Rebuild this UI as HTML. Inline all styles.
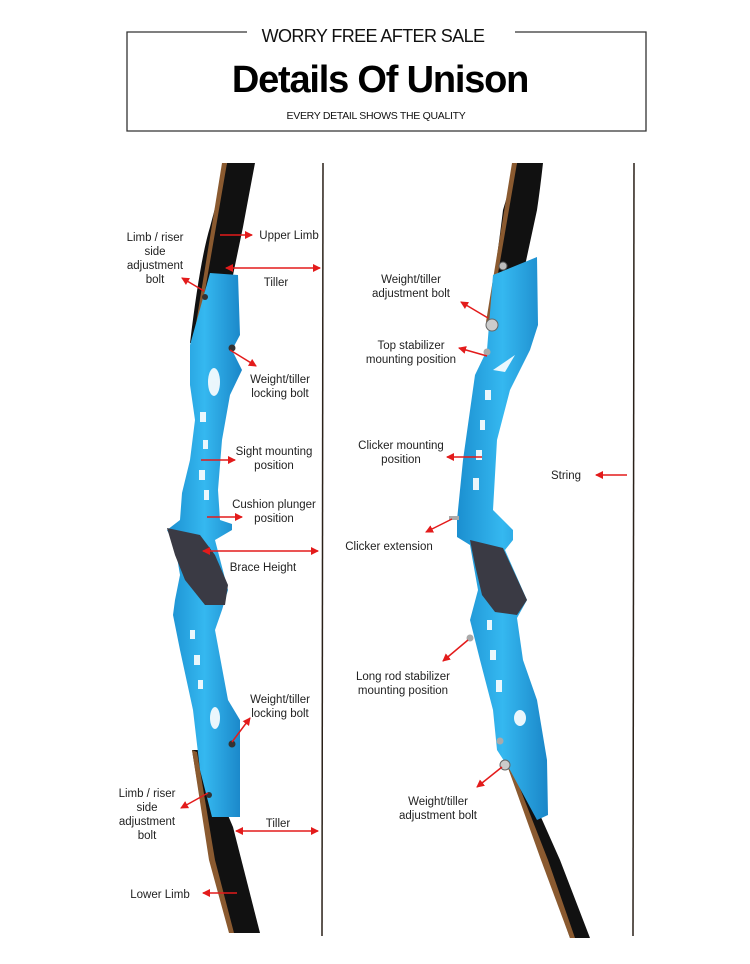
<!DOCTYPE html>
<html><head><meta charset="utf-8"><style>
body{margin:0;background:#fff;}
svg{display:block}
text{font-family:"Liberation Sans",sans-serif;fill:#222;}
.l{font-size:11.5px;}
</style></head><body>
<svg width="750" height="964" viewBox="0 0 750 964" xmlns="http://www.w3.org/2000/svg">
<defs>
<marker id="a" markerWidth="8" markerHeight="8" refX="7" refY="4" orient="auto-start-reverse" markerUnits="userSpaceOnUse"><path d="M0,0 L8,4 L0,8 Z" fill="#e31b1b"/></marker>
<linearGradient id="b" x1="0" x2="1"><stop offset="0" stop-color="#1b8fd0"/><stop offset="0.5" stop-color="#35b8f0"/><stop offset="1" stop-color="#1a86c8"/></linearGradient>
</defs>
<path d="M247,32 H127 V131 H646 V32 H515" fill="none" stroke="#333" stroke-width="1.3"/>
<text x="373" y="42" text-anchor="middle" font-size="18" font-weight="300" letter-spacing="-0.6" style="fill:#111">WORRY FREE AFTER SALE</text>
<text x="380" y="92" text-anchor="middle" font-size="38" font-weight="bold" style="fill:#000" letter-spacing="-1.2">Details Of Unison</text>
<text x="376" y="119" text-anchor="middle" font-size="10.5" letter-spacing="-0.3" style="fill:#111">EVERY DETAIL SHOWS THE QUALITY</text>

<line x1="323" y1="163" x2="322" y2="936" stroke="#2a2018" stroke-width="1.5"/>
<line x1="634" y1="163" x2="633" y2="936" stroke="#2a2018" stroke-width="1.5"/>

<!-- LEFT BOW -->
<path d="M227,163 L255,163 Q248,200 243,227 L233,275 L198,345 L190,343 Q200,260 210,227 Z" fill="#111"/>
<path d="M222,163 L227,163 L200,320 L195,330 Z" fill="#8a5a30"/>
<path d="M192,750 L200,750 L233,827 L260,933 L230,933 L210,860 Z" fill="#111"/>
<path d="M192,750 L197,752 L215,860 L234,933 L229,933 L209,860 Z" fill="#8a5a30"/>
<path d="M210,273 L238,275 L240,335 L232,350 L242,370 L230,395 L222,440 L218,490 L220,520 L232,524 L232,530 L215,540 L228,590 L222,610 L215,630 L228,700 L240,720 L240,817 L212,817 L200,770 L193,710 L180,650 L173,615 L175,600 L180,575 L175,545 L167,530 L180,520 L182,493 L190,460 L195,420 L190,385 L190,345 Z" fill="url(#b)"/>
<path d="M167,528 L200,535 L215,555 L228,585 L225,605 L205,605 L185,580 L175,555 Z" fill="#3a3a44"/>
<g fill="#fff" opacity="0.9">
<ellipse cx="214" cy="382" rx="6" ry="14"/>
<rect x="200" y="412" width="6" height="10"/><rect x="203" y="440" width="5" height="9"/>
<rect x="199" y="470" width="6" height="10"/><rect x="204" y="490" width="5" height="10"/>
<rect x="190" y="630" width="5" height="9"/><rect x="194" y="655" width="6" height="10"/>
<rect x="198" y="680" width="5" height="9"/><ellipse cx="215" cy="718" rx="5" ry="11"/>
</g>
<circle cx="205" cy="297" r="3" fill="#333"/><circle cx="232" cy="348" r="3.5" fill="#333"/>
<circle cx="232" cy="744" r="3.5" fill="#333"/><circle cx="209" cy="795" r="3" fill="#333"/>

<!-- RIGHT BOW -->
<path d="M517,163 L543,163 Q540,190 537,210 L523,275 L493,330 L487,325 Q497,260 503,210 Z" fill="#111"/>
<path d="M512,163 L517,163 L490,320 L486,322 Z" fill="#8a5a30"/>
<path d="M507,765 L520,770 L560,860 L590,938 L570,938 L543,860 Z" fill="#111"/>
<path d="M507,765 L512,768 L548,860 L575,938 L570,938 L541,860 Z" fill="#8a5a30"/>
<path d="M493,275 L537,257 L538,325 L530,350 L510,390 L497,440 L493,510 L513,530 L513,540 L505,550 L527,600 L517,618 L523,660 L537,700 L547,760 L548,815 L537,820 L510,770 L497,750 L493,710 L480,660 L470,620 L478,590 L470,545 L457,537 L457,520 L463,460 L475,375 L487,350 Z" fill="url(#b)"/>
<path d="M470,540 L503,548 L527,600 L517,615 L495,612 L482,595 L475,565 Z" fill="#3a3a44"/>
<g fill="#fff" opacity="0.9">
<path d="M493,370 L515,355 L505,372 Z"/>
<rect x="485" y="390" width="6" height="10"/><rect x="480" y="420" width="5" height="10"/>
<rect x="476" y="450" width="6" height="10"/><rect x="473" y="478" width="6" height="12"/>
<rect x="487" y="620" width="5" height="10"/><rect x="490" y="650" width="6" height="10"/>
<rect x="496" y="680" width="6" height="12"/><ellipse cx="520" cy="718" rx="6" ry="8"/>
</g>
<circle cx="503" cy="266" r="4" fill="#bbb" stroke="#555"/><circle cx="492" cy="325" r="6" fill="#ccc" stroke="#666"/>
<circle cx="487" cy="352" r="3.5" fill="#aaa"/><circle cx="470" cy="638" r="3.5" fill="#aaa"/>
<circle cx="500" cy="741" r="3.5" fill="#aaa"/><circle cx="505" cy="765" r="5" fill="#ccc" stroke="#666"/>
<line x1="449" y1="518" x2="459" y2="518" stroke="#aaa" stroke-width="4"/>

<g stroke="#e31b1b" stroke-width="1.5" fill="none">
<line x1="220" y1="235" x2="252" y2="235" marker-end="url(#a)"/>
<line x1="226" y1="268" x2="320" y2="268" marker-start="url(#a)" marker-end="url(#a)"/>
<line x1="204" y1="291" x2="182" y2="278" marker-end="url(#a)"/>
<line x1="230" y1="350" x2="256" y2="366" marker-end="url(#a)"/>
<line x1="201" y1="460" x2="235" y2="460" marker-end="url(#a)"/>
<line x1="207" y1="517" x2="242" y2="517" marker-end="url(#a)"/>
<line x1="203" y1="551" x2="318" y2="551" marker-start="url(#a)" marker-end="url(#a)"/>
<line x1="232" y1="742" x2="250" y2="718" marker-end="url(#a)"/>
<line x1="208" y1="793" x2="181" y2="808" marker-end="url(#a)"/>
<line x1="236" y1="831" x2="318" y2="831" marker-start="url(#a)" marker-end="url(#a)"/>
<line x1="237" y1="893" x2="203" y2="893" marker-end="url(#a)"/>
<line x1="488" y1="318" x2="461" y2="302" marker-end="url(#a)"/>
<line x1="487" y1="356" x2="459" y2="348" marker-end="url(#a)"/>
<line x1="482" y1="457" x2="447" y2="457" marker-end="url(#a)"/>
<line x1="452" y1="519" x2="426" y2="532" marker-end="url(#a)"/>
<line x1="468" y1="640" x2="443" y2="661" marker-end="url(#a)"/>
<line x1="502" y1="767" x2="477" y2="787" marker-end="url(#a)"/>
<line x1="627" y1="475" x2="596" y2="475" marker-end="url(#a)"/>
</g>

<g class="l">
<text x="155" y="241" text-anchor="middle" class="l">Limb / riser</text>
<text x="155" y="255" text-anchor="middle" class="l">side</text>
<text x="155" y="269" text-anchor="middle" class="l">adjustment</text>
<text x="155" y="283" text-anchor="middle" class="l">bolt</text>
<text x="289" y="239" text-anchor="middle" class="l">Upper Limb</text>
<text x="276" y="286" text-anchor="middle" class="l">Tiller</text>
<text x="280" y="383" text-anchor="middle" class="l">Weight/tiller</text>
<text x="280" y="397" text-anchor="middle" class="l">locking bolt</text>
<text x="274" y="455" text-anchor="middle" class="l">Sight mounting</text>
<text x="274" y="469" text-anchor="middle" class="l">position</text>
<text x="274" y="508" text-anchor="middle" class="l">Cushion plunger</text>
<text x="274" y="522" text-anchor="middle" class="l">position</text>
<text x="263" y="571" text-anchor="middle" class="l">Brace Height</text>
<text x="280" y="703" text-anchor="middle" class="l">Weight/tiller</text>
<text x="280" y="717" text-anchor="middle" class="l">locking bolt</text>
<text x="147" y="797" text-anchor="middle" class="l">Limb / riser</text>
<text x="147" y="811" text-anchor="middle" class="l">side</text>
<text x="147" y="825" text-anchor="middle" class="l">adjustment</text>
<text x="147" y="839" text-anchor="middle" class="l">bolt</text>
<text x="278" y="827" text-anchor="middle" class="l">Tiller</text>
<text x="160" y="898" text-anchor="middle" class="l">Lower Limb</text>
<text x="411" y="283" text-anchor="middle" class="l">Weight/tiller</text>
<text x="411" y="297" text-anchor="middle" class="l">adjustment bolt</text>
<text x="411" y="349" text-anchor="middle" class="l">Top stabilizer</text>
<text x="411" y="363" text-anchor="middle" class="l">mounting position</text>
<text x="401" y="449" text-anchor="middle" class="l">Clicker mounting</text>
<text x="401" y="463" text-anchor="middle" class="l">position</text>
<text x="389" y="550" text-anchor="middle" class="l">Clicker extension</text>
<text x="403" y="680" text-anchor="middle" class="l">Long rod stabilizer</text>
<text x="403" y="694" text-anchor="middle" class="l">mounting position</text>
<text x="438" y="805" text-anchor="middle" class="l">Weight/tiller</text>
<text x="438" y="819" text-anchor="middle" class="l">adjustment bolt</text>
<text x="566" y="479" text-anchor="middle" class="l">String</text>
</g>
</svg>
</body></html>
